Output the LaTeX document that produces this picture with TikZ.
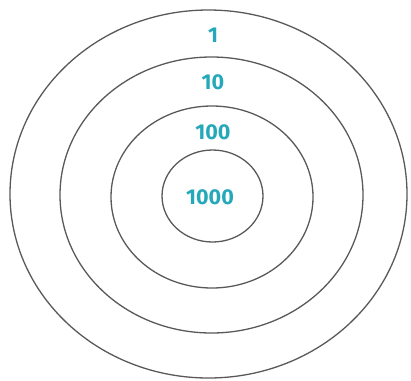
\documentclass[tikz,border=0pt]{standalone}
\usepackage{fontspec}
\setmainfont{Fira Sans}
\definecolor{lblteal}{RGB}{36,168,186}
\begin{document}
\begin{tikzpicture}[x=1pt,y=-1pt,
  ring/.style={draw=black!65,line width=1.3pt},
  lbl/.style={text=lblteal,font=\fontsize{21.5}{23}\selectfont\bfseries,inner sep=0pt}]
\useasboundingbox (0,0) rectangle (411,380);
\draw[ring] (208.5,194) ellipse [x radius=198.5, y radius=184];
\draw[ring] (211.5,195) ellipse [x radius=151.5, y radius=138];
\draw[ring] (212,197) ellipse [x radius=101, y radius=91];
\draw[ring] (212.5,196) ellipse [x radius=50.5, y radius=46];
\node[lbl] (n1) at (213,35) {1};
\node[lbl] (n10) at (213,82) {10};
\node[lbl] (n100) at (213,132) {100};
\node[lbl] (n1000) at (210,197) {1000};
\end{tikzpicture}
\end{document}
